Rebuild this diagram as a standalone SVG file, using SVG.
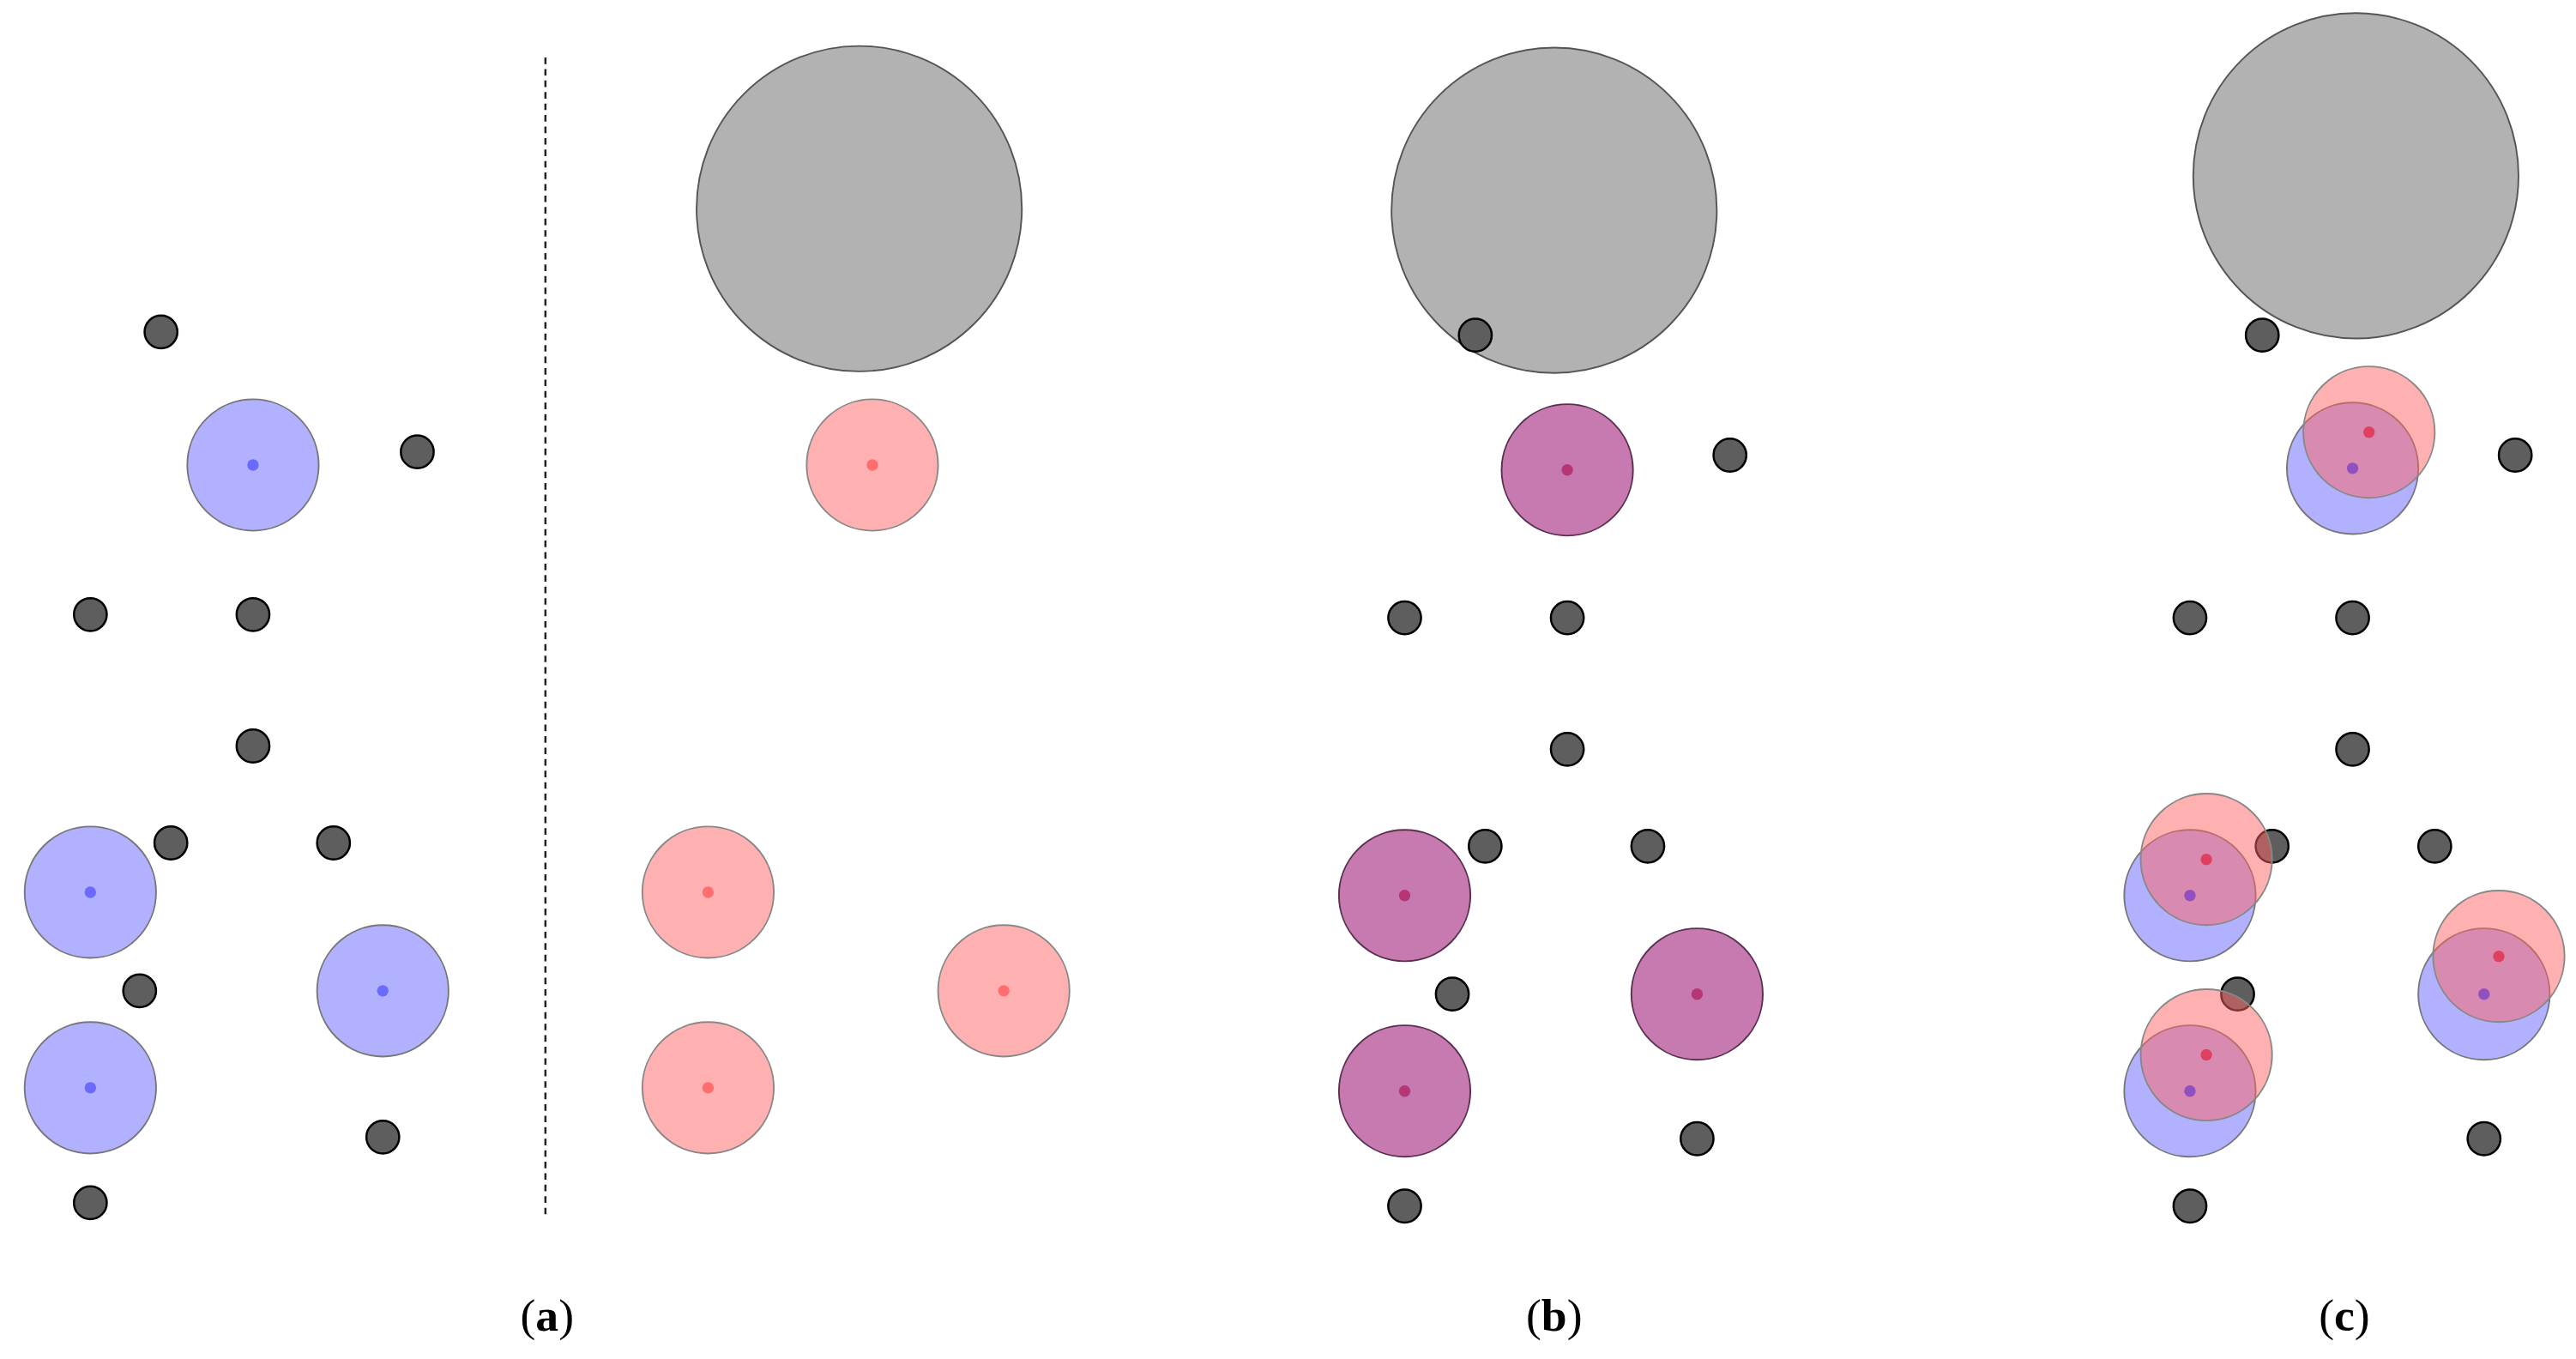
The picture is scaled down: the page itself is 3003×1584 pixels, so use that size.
<svg xmlns="http://www.w3.org/2000/svg" width="3003" height="1584" viewBox="0 0 3003 1584">
<style>
.s{fill:#5e5e5e;stroke:#000;stroke-width:1.3}
.g{fill:#b2b2b2;stroke:#555;stroke-width:1}
.b{fill:rgb(100,100,255);fill-opacity:0.5;stroke:#777;stroke-width:1}
.p{fill:rgb(255,100,100);fill-opacity:0.5;stroke:#888;stroke-width:1}
.m{fill:#c77ab0;stroke:#5a3050;stroke-width:1}
.bd{fill:#6a6aff}.pd{fill:#ff6e6e}.md{fill:#b53575}
.t{font-family:'Liberation Serif',serif;font-size:28px}
</style>
<rect width="3003" height="1584" fill="#fff"/>
<g transform="scale(1.9152)">
<g id="connectors"><line x1="332" y1="35" x2="332" y2="742" stroke="#222" stroke-width="1.3" stroke-dasharray="4,3"/></g>
<g id="panel-a">
<circle class="b" cx="154" cy="283" r="40"/><circle class="b" cx="55" cy="543" r="40"/><circle class="b" cx="233" cy="603" r="40"/><circle class="b" cx="55" cy="662" r="40"/>
<circle class="bd" cx="154" cy="283" r="3.5"/><circle class="bd" cx="55" cy="543" r="3.5"/><circle class="bd" cx="233" cy="603" r="3.5"/><circle class="bd" cx="55" cy="662" r="3.5"/>
<circle class="s" cx="98" cy="202" r="10"/><circle class="s" cx="254" cy="275" r="10"/><circle class="s" cx="55" cy="374" r="10"/><circle class="s" cx="154" cy="374" r="10"/><circle class="s" cx="154" cy="454" r="10"/><circle class="s" cx="104" cy="513" r="10"/><circle class="s" cx="203" cy="513" r="10"/><circle class="s" cx="85" cy="603" r="10"/><circle class="s" cx="233" cy="692" r="10"/><circle class="s" cx="55" cy="732" r="10"/>
</g>
<g id="panel-a2">
<circle class="g" cx="523" cy="127" r="99"/>
<circle class="p" cx="531" cy="283" r="40"/><circle class="p" cx="431" cy="543" r="40"/><circle class="p" cx="611" cy="603" r="40"/><circle class="p" cx="431" cy="662" r="40"/>
<circle class="pd" cx="531" cy="283" r="3.5"/><circle class="pd" cx="431" cy="543" r="3.5"/><circle class="pd" cx="611" cy="603" r="3.5"/><circle class="pd" cx="431" cy="662" r="3.5"/>
</g>
<g id="panel-b">
<circle class="g" cx="946" cy="128" r="99"/>
<circle class="s" cx="898" cy="204" r="10"/>
<circle class="m" cx="954" cy="286" r="40"/><circle class="m" cx="855" cy="545" r="40"/><circle class="m" cx="1033" cy="605" r="40"/><circle class="m" cx="855" cy="664" r="40"/>
<circle class="md" cx="954" cy="286" r="3.5"/><circle class="md" cx="855" cy="545" r="3.5"/><circle class="md" cx="1033" cy="605" r="3.5"/><circle class="md" cx="855" cy="664" r="3.5"/>
<circle class="s" cx="1053" cy="277" r="10"/><circle class="s" cx="855" cy="376" r="10"/><circle class="s" cx="954" cy="376" r="10"/><circle class="s" cx="954" cy="456" r="10"/><circle class="s" cx="904" cy="515" r="10"/><circle class="s" cx="1003" cy="515" r="10"/><circle class="s" cx="884" cy="605" r="10"/><circle class="s" cx="1033" cy="693" r="10"/><circle class="s" cx="855" cy="734" r="10"/>
</g>
<g id="panel-c">
<circle class="g" cx="1434" cy="107" r="99"/>
<circle class="s" cx="1377" cy="204" r="10"/><circle class="s" cx="1531" cy="277" r="10"/><circle class="s" cx="1333" cy="376" r="10"/><circle class="s" cx="1432" cy="376" r="10"/><circle class="s" cx="1432" cy="456" r="10"/><circle class="s" cx="1383" cy="515" r="10"/><circle class="s" cx="1482" cy="515" r="10"/><circle class="s" cx="1362" cy="605" r="10"/><circle class="s" cx="1512" cy="693" r="10"/><circle class="s" cx="1333" cy="734" r="10"/>
<circle class="b" cx="1432" cy="285" r="40"/><circle class="b" cx="1333" cy="545" r="40"/><circle class="b" cx="1512" cy="605" r="40"/><circle class="b" cx="1333" cy="664" r="40"/>
<circle class="p" cx="1442" cy="263" r="40"/><circle class="p" cx="1343" cy="523" r="40"/><circle class="p" cx="1521" cy="582" r="40"/><circle class="p" cx="1343" cy="642" r="40"/>
<circle cx="1432" cy="285" r="3.5" fill="#9050c0"/><circle cx="1333" cy="545" r="3.5" fill="#9050c0"/><circle cx="1512" cy="605" r="3.5" fill="#9050c0"/><circle cx="1333" cy="664" r="3.5" fill="#9050c0"/>
<circle cx="1442" cy="263" r="3.5" fill="#e04060"/><circle cx="1343" cy="523" r="3.5" fill="#e04060"/><circle cx="1521" cy="582" r="3.5" fill="#e04060"/><circle cx="1343" cy="642" r="3.5" fill="#e04060"/>
</g>
<g id="labels" class="t" text-anchor="middle">
<text x="333" y="810">(<tspan font-weight="bold">a</tspan>)</text>
<text x="946" y="810">(<tspan font-weight="bold">b</tspan>)</text>
<text x="1427" y="810">(<tspan font-weight="bold">c</tspan>)</text>
</g>
</g>
</svg>
